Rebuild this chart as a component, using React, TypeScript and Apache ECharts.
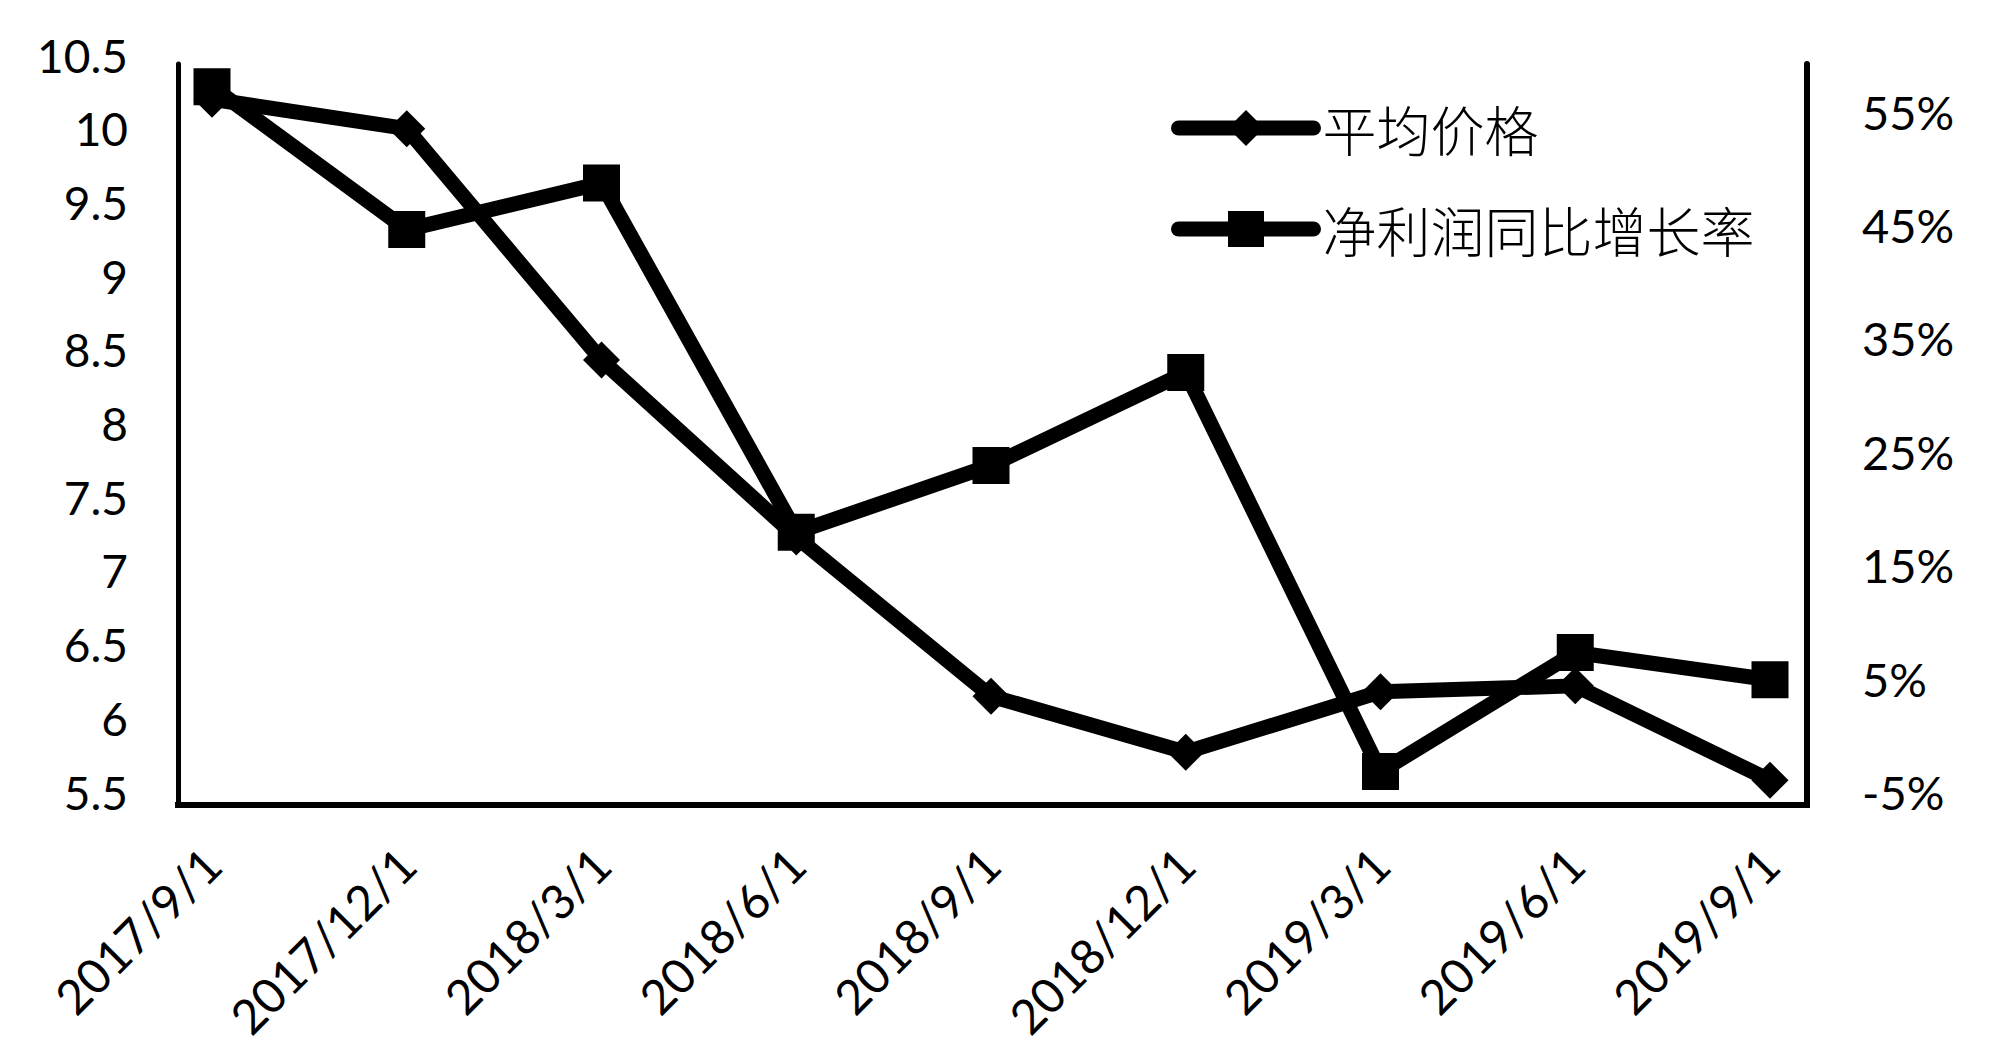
import React, { useEffect, useRef } from 'react';
import * as echarts from 'echarts';

const categories = ['2017/9/1', '2017/12/1', '2018/3/1', '2018/6/1', '2018/9/1', '2018/12/1', '2019/3/1', '2019/6/1', '2019/9/1'];
const avgPrice = [10.2, 10.0, 8.43, 7.23, 6.15, 5.77, 6.18, 6.22, 5.58];
const profitGrowth = [57.2, 44.6, 48.7, 17.9, 23.8, 32.0, -3.2, 7.3, 4.9];
const seriesNames = ['平均价格', '净利润同比增长率'];

const leftAxis = { min: 5.5, max: 10.5, interval: 0.5 };
const rightAxis = { min: -5, max: 60, interval: 5, labelStep: 10, labelMax: 55 };

export default function App() {
  const ref = useRef<HTMLDivElement>(null);
  useEffect(() => {
    if (!ref.current) return;
    const chart = echarts.init(ref.current, null, { renderer: 'svg' });
    const black = '#000';
    const legendText = { fontFamily: '"Noto Sans CJK SC"', fontSize: 54, fontWeight: 300, color: black, padding: [0, 0, 0, 4] };
    const noAxisBits = { axisTick: { show: false }, splitLine: { show: false } };
    chart.setOption({
      animation: false,
      backgroundColor: '#fff',
      textStyle: { fontFamily: 'Lato', color: black },
      grid: [
        { left: 212, right: 221, top: 55, bottom: 259 },
        { left: 178, right: 184, top: 64, bottom: 246 },
      ],
      xAxis: [
        {
          type: 'category', gridIndex: 0, data: categories, boundaryGap: false,
          axisLine: { show: false }, ...noAxisBits,
          axisLabel: { interval: 0, rotate: 45, margin: 64, fontSize: 48, color: black, fontFamily: 'Lato', hideOverlap: false },
        },
        {
          type: 'value', gridIndex: 1, min: 0, max: 1,
          axisLine: { show: true, onZero: false, lineStyle: { color: black, width: 6, cap: 'square' } },
          axisLabel: { show: false }, ...noAxisBits,
        },
      ],
      yAxis: [
        {
          type: 'value', gridIndex: 0, position: 'left', min: leftAxis.min, max: leftAxis.max, interval: leftAxis.interval,
          axisLine: { show: false }, ...noAxisBits,
          axisLabel: { margin: 84, fontSize: 46, color: black, fontFamily: 'Lato', showMinLabel: true, showMaxLabel: true },
        },
        {
          type: 'value', gridIndex: 0, position: 'right', min: rightAxis.min, max: rightAxis.max, interval: rightAxis.interval,
          axisLine: { show: false }, ...noAxisBits,
          axisLabel: {
            margin: 92, fontSize: 47, color: black, fontFamily: 'Lato',
            formatter: (v: number) => {
              const r = Math.round(v);
              return (r - rightAxis.min) % rightAxis.labelStep === 0 && r <= rightAxis.labelMax ? r + '%' : '';
            },
          },
        },
        {
          type: 'value', gridIndex: 1, position: 'left', min: 0, max: 1,
          axisLine: { show: true, onZero: false, lineStyle: { color: black, width: 5 } },
          axisLabel: { show: false }, ...noAxisBits,
        },
        {
          type: 'value', gridIndex: 1, position: 'right', min: 0, max: 1,
          axisLine: { show: true, onZero: false, lineStyle: { color: black, width: 6 } },
          axisLabel: { show: false }, ...noAxisBits,
        },
      ],
      legend: [
        {
          data: [seriesNames[0]], left: 1166, top: 96, orient: 'vertical', selectedMode: false,
          itemWidth: 135, itemHeight: 45, lineStyle: { width: 15, cap: 'round' }, textStyle: legendText,
        },
        {
          data: [seriesNames[1]], left: 1166, top: 197, orient: 'vertical', selectedMode: false,
          itemWidth: 135, itemHeight: 45, lineStyle: { width: 15, cap: 'round' }, textStyle: legendText,
        },
      ],
      series: [
        {
          name: seriesNames[0], type: 'line', xAxisIndex: 0, yAxisIndex: 0, data: avgPrice,
          symbol: 'diamond', symbolSize: 37, showAllSymbol: true,
          lineStyle: { color: black, width: 15, join: 'round' }, itemStyle: { color: black },
        },
        {
          name: seriesNames[1], type: 'line', xAxisIndex: 0, yAxisIndex: 1, data: profitGrowth,
          symbol: 'rect', symbolSize: 37, showAllSymbol: true,
          lineStyle: { color: black, width: 15, join: 'round' }, itemStyle: { color: black },
        },
      ],
    });
    return () => chart.dispose();
  }, []);
  return <div ref={ref} style={{ position: 'absolute', left: 0, top: 0, width: 1991, height: 1051 }} />;
}
